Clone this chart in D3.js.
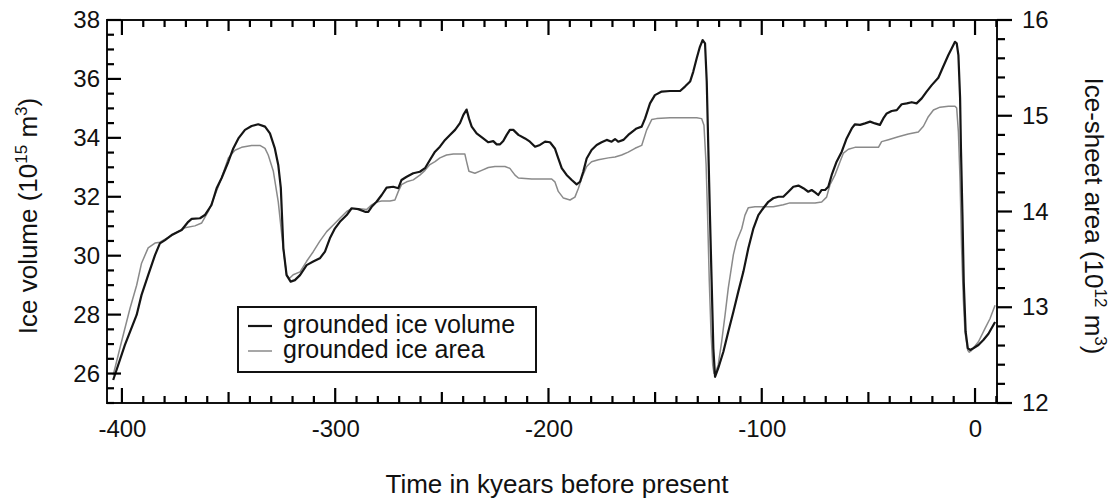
<!DOCTYPE html>
<html>
<head>
<meta charset="utf-8">
<script src="https://cdn.jsdelivr.net/npm/d3@7"></script>
<style>
  body { margin: 0; background: #fff; }
  svg { display: block; }
</style>
</head>
<body>
<svg id="chart" width="1114" height="502"></svg>
<script>
// Grounded ice volume (10^15 m^3) against time (kyr before present)
const volumeTime = [-404.1,-398.6,-393.1,-390.8,-387.7,-384.5,-382.2,-379.8,-376.7,-372.0,-368.9,-367.3,-363.4,-361.1,-358.0,-355.6,-353.3,-350.1,-347.8,-345.4,-342.3,-339.2,-336.1,-332.9,-330.6,-328.3,-326.7,-325.5,-324.3,-322.8,-320.9,-318.9,-316.5,-313.4,-310.3,-307.2,-304.8,-302.5,-300.1,-297.8,-294.6,-292.3,-289.2,-286.0,-284.5,-282.9,-280.6,-278.2,-275.9,-272.8,-270.4,-268.9,-266.5,-263.4,-260.3,-257.9,-255.6,-253.2,-250.9,-248.5,-246.2,-243.8,-241.5,-239.9,-238.4,-237.3,-236.0,-233.7,-230.6,-228.2,-225.9,-224.3,-222.7,-221.2,-219.6,-218.1,-216.5,-214.1,-211.0,-208.7,-206.3,-204.0,-201.6,-199.3,-197.0,-195.4,-193.8,-191.5,-189.1,-186.8,-185.2,-183.7,-182.1,-179.8,-177.4,-175.1,-172.7,-170.4,-168.8,-167.3,-164.9,-162.6,-160.2,-158.7,-156.3,-154.7,-152.4,-150.1,-146.9,-143.0,-138.3,-136.0,-133.6,-132.1,-130.5,-129.0,-127.7,-126.6,-125.8,-125.05,-124.3,-123.5,-122.7,-121.9,-120.4,-118.0,-115.7,-113.3,-111.0,-108.6,-106.3,-103.9,-101.6,-99.3,-96.9,-94.6,-92.2,-89.9,-87.5,-85.2,-82.8,-80.5,-78.2,-76.6,-75.0,-73.5,-71.9,-70.3,-68.8,-67.2,-64.9,-62.5,-60.2,-57.8,-56.3,-53.9,-51.6,-49.2,-46.9,-44.6,-43.0,-41.4,-39.1,-36.7,-34.4,-32.0,-29.7,-27.4,-25.0,-22.7,-20.3,-17.2,-14.9,-12.5,-10.9,-9.4,-8.6,-7.8,-7.0,-6.6,-5.9,-5.3,-4.4,-3.4,-2.3,-0.8,1.6,3.9,6.3,9.4];
const volumeValue = [25.78,26.97,27.99,28.67,29.34,30.02,30.42,30.53,30.70,30.87,31.15,31.25,31.27,31.38,31.72,32.29,32.63,33.19,33.64,33.98,34.27,34.40,34.46,34.38,34.15,33.64,33.08,32.30,30.25,29.34,29.12,29.17,29.34,29.68,29.80,29.91,30.14,30.59,30.93,31.15,31.38,31.61,31.58,31.49,31.49,31.66,31.83,32.06,32.31,32.34,32.29,32.57,32.68,32.80,32.85,32.97,33.25,33.53,33.70,33.93,34.10,34.27,34.50,34.78,34.96,34.66,34.38,34.15,33.98,33.85,33.89,33.78,33.78,33.89,34.10,34.27,34.27,34.10,33.98,33.87,33.70,33.76,33.87,33.85,33.64,33.30,32.97,32.74,32.57,32.42,32.51,32.85,33.30,33.59,33.76,33.85,33.93,33.87,33.96,33.87,33.93,34.10,34.24,34.32,34.38,34.66,35.17,35.45,35.57,35.59,35.59,35.74,35.91,36.25,36.70,37.09,37.32,37.21,35.91,33.64,31.38,29.12,26.86,25.89,26.18,26.74,27.42,28.10,28.78,29.46,30.25,30.93,31.38,31.61,31.83,31.95,32.00,32.00,32.17,32.34,32.38,32.29,32.17,32.23,32.15,32.06,32.23,32.23,32.34,32.74,33.19,33.53,33.98,34.32,34.46,34.44,34.49,34.55,34.49,34.44,34.66,34.83,34.91,34.94,35.14,35.17,35.21,35.17,35.34,35.57,35.79,36.04,36.42,36.81,37.04,37.26,37.21,36.81,35.34,33.64,31.38,29.12,27.42,26.86,26.80,26.86,26.97,27.14,27.35,27.75];

// Grounded ice-sheet area (10^12 m^2) against time (kyr before present)
const areaTime = [-404.1,-400.2,-396.2,-393.1,-390.8,-387.7,-384.5,-382.2,-379.1,-375.1,-370.5,-365.8,-362.6,-359.5,-356.4,-353.3,-350.1,-347.0,-343.9,-339.2,-335.3,-332.9,-331.4,-329.0,-326.7,-324.4,-322.8,-321.5,-319.7,-316.5,-313.4,-310.3,-307.2,-304.0,-300.9,-297.8,-294.6,-292.3,-288.4,-285.3,-282.9,-280.6,-278.2,-274.3,-272.0,-270.4,-268.9,-266.5,-263.4,-260.3,-257.9,-255.6,-253.2,-250.9,-247.8,-244.6,-239.2,-238.4,-237.3,-234.5,-231.3,-228.2,-225.1,-220.4,-218.1,-215.7,-214.1,-207.9,-198.5,-197.0,-195.4,-193.0,-189.9,-187.6,-186.0,-184.4,-182.1,-179.8,-176.6,-171.9,-168.8,-165.7,-162.6,-159.4,-156.3,-154.0,-151.6,-149.3,-143.0,-130.5,-128.2,-127.1,-126.1,-125.4,-124.6,-123.8,-123.0,-122.4,-121.5,-120.4,-118.8,-117.2,-115.7,-113.3,-111.8,-109.4,-107.9,-106.3,-103.2,-94.6,-89.9,-86.8,-83.6,-77.4,-75.0,-71.9,-69.6,-68.0,-65.7,-63.3,-61.7,-59.4,-56.3,-51.6,-45.3,-43.8,-40.6,-36.0,-31.3,-26.6,-24.2,-21.9,-19.5,-16.4,-12.5,-9.4,-8.6,-7.8,-7.0,-6.3,-5.5,-4.7,-3.4,-2.7,-1.6,1.6,4.7,7.0,9.4];
const areaValue = [12.29,12.64,12.99,13.23,13.46,13.62,13.67,13.68,13.72,13.77,13.83,13.85,13.88,14.00,14.17,14.35,14.56,14.64,14.67,14.69,14.69,14.66,14.59,14.42,14.10,13.62,13.34,13.30,13.34,13.37,13.48,13.58,13.69,13.79,13.86,13.93,14.00,14.03,14.03,14.02,14.07,14.10,14.11,14.11,14.12,14.21,14.28,14.31,14.33,14.38,14.43,14.49,14.52,14.56,14.59,14.60,14.60,14.52,14.42,14.40,14.43,14.46,14.47,14.47,14.45,14.38,14.35,14.34,14.34,14.31,14.21,14.14,14.12,14.15,14.24,14.35,14.47,14.52,14.54,14.56,14.57,14.59,14.62,14.66,14.69,14.85,14.96,14.97,14.98,14.98,14.97,14.90,14.49,13.96,13.27,12.74,12.40,12.31,12.33,12.40,12.64,12.92,13.20,13.55,13.69,13.82,13.96,14.04,14.05,14.05,14.07,14.09,14.09,14.09,14.09,14.10,14.15,14.28,14.38,14.52,14.61,14.65,14.67,14.67,14.67,14.73,14.75,14.78,14.81,14.83,14.89,14.99,15.06,15.09,15.10,15.10,15.08,14.83,14.31,13.62,13.09,12.74,12.55,12.53,12.55,12.64,12.78,12.88,13.02];

const timeTicks = [-400, -300, -200, -100, 0];
const volumeTicks = [26, 28, 30, 32, 34, 36, 38];
const areaTicks = [12, 13, 14, 15, 16];
const seriesNames = ["grounded ice volume", "grounded ice area"];

const svg = d3.select("#chart");
const plotL = 107, plotR = 997, plotT = 20, plotB = 403;
const ink = "#111";
const fontStack = "Liberation Sans, Arial, Helvetica, sans-serif";

const x = d3.scaleLinear().domain([-407, 10.3]).range([plotL, plotR]);
const yVol = d3.scaleLinear().domain([25, 38]).range([plotB, plotT]);
const yArea = d3.scaleLinear().domain([12, 16]).range([plotB, plotT]);

// curves
const areaData = areaTime.map((t, i) => ({ t, v: areaValue[i] })).filter(d => d.v !== undefined);
const volumeData = volumeTime.map((t, i) => ({ t, v: volumeValue[i] })).filter(d => d.v !== undefined);

svg.append("path").datum(areaData)
  .attr("d", d3.line().x(d => x(d.t)).y(d => yArea(d.v)))
  .attr("fill", "none").attr("stroke", "#8a8a8a").attr("stroke-width", 1.5)
  .attr("stroke-linejoin", "round");

svg.append("path").datum(volumeData)
  .attr("d", d3.line().x(d => x(d.t)).y(d => yVol(d.v)))
  .attr("fill", "none").attr("stroke", "#151515").attr("stroke-width", 2.2)
  .attr("stroke-linejoin", "round");

// tick labels through d3 axes
function labelAxis(axis, tx, ty) {
  const g = svg.append("g").attr("transform", `translate(${tx},${ty})`).call(axis);
  g.select(".domain").remove();
  g.selectAll(".tick line").remove();
  g.selectAll(".tick text").attr("fill", ink).attr("font-size", 24).attr("font-family", fontStack);
  return g;
}
const fmt = d => String(d);
labelAxis(d3.axisBottom(x).tickValues(timeTicks).tickSize(0).tickPadding(17).tickFormat(fmt), 0, plotB);
labelAxis(d3.axisLeft(yVol).tickValues(volumeTicks).tickSize(0).tickPadding(7).tickFormat(fmt), plotL, 0);
labelAxis(d3.axisRight(yArea).tickValues(areaTicks).tickSize(0).tickPadding(25).tickFormat(fmt), plotR, 0);

// frame
svg.append("rect").attr("x", plotL).attr("y", plotT)
  .attr("width", plotR - plotL).attr("height", plotB - plotT)
  .attr("fill", "none").attr("stroke", ink).attr("stroke-width", 2);

// legend
const lg = svg.append("g");
lg.append("rect").attr("x", 238).attr("y", 307).attr("width", 298).attr("height", 65)
  .attr("fill", "#fff").attr("stroke", ink).attr("stroke-width", 2);
const legendStyles = [{ c: "#151515", w: 2.2 }, { c: "#8a8a8a", w: 1.5 }];
seriesNames.forEach((name, i) => {
  const cy = 326 + i * 25;
  lg.append("line").attr("x1", 248).attr("x2", 272).attr("y1", cy).attr("y2", cy)
    .attr("stroke", legendStyles[i].c).attr("stroke-width", legendStyles[i].w);
  lg.append("text").attr("x", 283).attr("y", cy + 7)
    .attr("font-family", fontStack).attr("font-size", 25).attr("fill", ink)
    .text(name);
});

// axis titles
svg.append("text").attr("x", 557).attr("y", 493).attr("text-anchor", "middle")
  .attr("font-family", fontStack).attr("font-size", 26).attr("fill", ink)
  .text("Time in kyears before present");

function titleWithSuperscripts(tx, ty, angle, base, sup1) {
  const t = svg.append("text").attr("transform", `translate(${tx},${ty}) rotate(${angle})`)
    .attr("text-anchor", "middle").attr("font-family", fontStack)
    .attr("font-size", 26).attr("fill", ink);
  t.append("tspan").text(base + " (10");
  t.append("tspan").attr("dy", -10).attr("font-size", 17).text(sup1);
  t.append("tspan").attr("dy", 10).text(" m");
  t.append("tspan").attr("dy", -10).attr("font-size", 17).text("3");
  t.append("tspan").attr("dy", 10).text(")");
  return t;
}
titleWithSuperscripts(37, 216, -90, "Ice volume", "15");
titleWithSuperscripts(1085, 216, 90, "Ice-sheet area", "12");

// tick marks, placed through the scales and drawn on top of everything
const tickLayer = svg.append("g").attr("class", "tick-marks");
function tickLines(values, x1, y1, x2, y2) {
  tickLayer.selectAll(null).data(values).join("line")
    .attr("x1", x1).attr("y1", y1).attr("x2", x2).attr("y2", y2)
    .attr("stroke", "#000").attr("stroke-width", 2.2);
}
const every10 = d3.range(-400, 11, 10).filter(d => d % 50 !== 0);
const every50 = [-350, -250, -150, -50];
[[every10, 7], [every50, 11], [timeTicks, 15]].forEach(([vals, len]) => {
  tickLines(vals, d => x(d), plotB, d => x(d), plotB - len);
  tickLines(vals, d => x(d), plotT, d => x(d), plotT + len);
});
const volMinor = d3.range(25, 38.01, 0.5).filter(v => !volumeTicks.includes(v));
tickLines(volMinor, plotL, d => yVol(d), plotL + 7, d => yVol(d));
tickLines(volumeTicks, plotL, d => yVol(d), plotL + 14, d => yVol(d));
const areaMinor = d3.range(12, 16.01, 0.2).map(v => +v.toFixed(1)).filter(v => !areaTicks.includes(v));
tickLines(areaMinor, plotR, d => yArea(d), plotR + 8, d => yArea(d));
tickLines(areaTicks, plotR, d => yArea(d), plotR + 15, d => yArea(d));
</script>
</body>
</html>
